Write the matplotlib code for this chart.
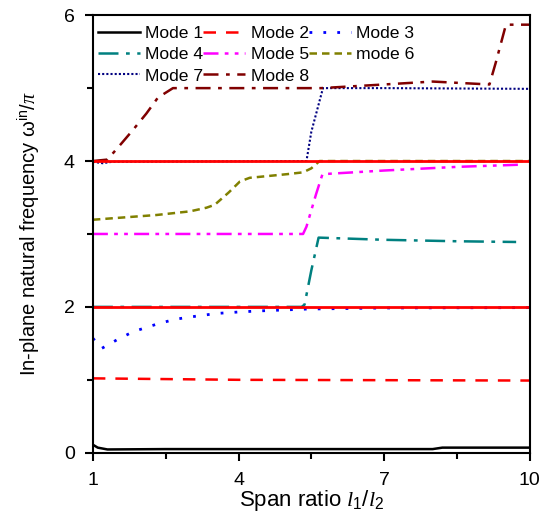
import matplotlib
matplotlib.use("Agg")
import matplotlib.pyplot as plt
from matplotlib.ticker import FixedLocator

plt.rcParams['font.family'] = ['Liberation Sans', 'DejaVu Sans']
plt.rcParams['mathtext.fontset'] = 'custom'
plt.rcParams['mathtext.rm'] = 'Liberation Sans'
plt.rcParams['mathtext.it'] = 'Liberation Serif:italic'
plt.rcParams['mathtext.sf'] = 'Liberation Sans'

# ---- data ----
m1_x = [1, 1.1, 1.3, 2.5, 8.0, 8.2, 10]
m1_y = [0.11, 0.07, 0.045, 0.05, 0.05, 0.07, 0.07]

m2_x = [1, 4, 10]
m2_y = [1.02, 1.0, 0.99]

m3_x = [1, 1.18, 1.5, 1.83, 2.3, 2.69, 3.1, 3.55, 4.0, 4.44, 5.4, 7, 10]
m3_y = [1.57, 1.43, 1.55, 1.66, 1.76, 1.83, 1.87, 1.91, 1.93, 1.945, 1.97, 1.985, 1.99]

m4_x = [1, 5.3, 5.36, 5.5, 5.65, 7, 8.5, 9.72]
m4_y = [2.0, 2.0, 2.03, 2.5, 2.95, 2.92, 2.9, 2.89]

m5_x = [1, 5.33, 5.4, 5.6, 5.73, 7, 8.5, 9.8]
m5_y = [3.0, 3.0, 3.1, 3.55, 3.82, 3.87, 3.92, 3.95]

m6_x = [1, 1.5, 2.31, 3.0, 3.34, 3.51, 3.8, 4.03, 4.23, 5.0, 5.33, 5.5, 5.67, 7, 10]
m6_y = [3.195, 3.22, 3.26, 3.31, 3.36, 3.40, 3.57, 3.72, 3.77, 3.82, 3.845, 3.9, 4.0, 4.0, 4.0]

m7_x = [1, 1.2, 1.4, 5.4, 5.5, 5.74, 7, 10]
m7_y = [3.99, 3.97, 3.99, 4.0, 4.4, 5.0, 5.0, 4.99]

m8_x = [1, 1.3, 1.6, 1.83, 2.1, 2.34, 2.65, 3, 5.7, 7, 8.0, 9.17, 9.3, 9.51, 10]
m8_y = [4.0, 4.02, 4.25, 4.43, 4.65, 4.87, 5.0, 5.0, 5.0, 5.05, 5.09, 5.05, 5.35, 5.87, 5.87]

ref_x = [1, 10]
ref2_y = [2, 2]
ref4_y = [4, 4]

labels = ['Mode 1', 'Mode 2', 'Mode 3', 'Mode 4', 'Mode 5', 'mode 6', 'Mode 7', 'Mode 8']
x_ticks = [1, 4, 7, 10]
x_minor = [2.5, 5.5, 8.5]
y_ticks = [0, 2, 4, 6]
y_minor = [1, 3, 5]

fig = plt.figure(figsize=(5.4, 5.24), dpi=100)
ax = fig.add_axes([0.172, 0.136, 0.809, 0.835])

lw = 1.8
h = []
h += ax.plot(m1_x, m1_y, color='black', lw=lw, ls='-', label=labels[0])
h += ax.plot(m2_x, m2_y, color='#ff0000', lw=lw, ls=(0, (5, 4)), label=labels[1])
h += ax.plot(m3_x, m3_y, color='#0000ff', lw=2.0, ls=(0, (1, 4)), label=labels[2])
h += ax.plot(m4_x, m4_y, color='#008080', lw=lw, ls=(0, (8, 3, 1.5, 3)), label=labels[3])
h += ax.plot(m5_x, m5_y, color='#ff00ff', lw=lw, ls=(0, (6, 2.5, 1.5, 2.5, 1.5, 2.5)), label=labels[4])
h += ax.plot(m6_x, m6_y, color='#808000', lw=lw, ls=(0, (3, 2)), label=labels[5])
h += ax.plot(m7_x, m7_y, color='#000080', lw=1.5, ls=(0, (1, 1)), label=labels[6])
h += ax.plot(m8_x, m8_y, color='#800000', lw=lw, ls=(0, (6, 3, 1.5, 3)), label=labels[7])

ax.plot(ref_x, ref2_y, color='#ff0000', lw=2.0, ls='-')
ax.plot(ref_x, ref4_y, color='#ff0000', lw=2.0, ls='-')

ax.set_xlim(1, 10)
ax.set_ylim(0, 6)
ax.xaxis.set_major_locator(FixedLocator(x_ticks))
ax.xaxis.set_minor_locator(FixedLocator(x_minor))
ax.yaxis.set_major_locator(FixedLocator(y_ticks))
ax.yaxis.set_minor_locator(FixedLocator(y_minor))

ax.tick_params(which='both', direction='out', top=False, right=False, width=1.5, labelsize=14)
ax.tick_params(which='major', length=6)
ax.tick_params(which='minor', length=4)
ax.tick_params(axis='x', which='major', pad=8)
ax.tick_params(axis='y', which='major', pad=7)
for s in ax.spines.values():
    s.set_linewidth(1.5)

ax.set_xlabel(r'Span ratio $\mathit{l}_{\mathrm{1}}/\mathit{l}_{\mathrm{2}}$', fontsize=16, labelpad=-1)
ax.set_ylabel(r'In-plane natural frequency $\mathrm{\omega}^{\mathrm{in}}/\mathit{\pi}$', fontsize=14.5, labelpad=16)

# row-major legend order (3 columns)
order = [0, 3, 6, 1, 4, 7, 2, 5]
ax.legend([h[i] for i in order], [labels[i] for i in order],
          loc='upper left', bbox_to_anchor=(5 / 437, 1 - 11 / 437),
          ncol=3, frameon=False, fontsize=12.6,
          handlelength=2.4, handletextpad=0.3, columnspacing=0.0,
          labelspacing=0.33, borderaxespad=0.0, borderpad=0.0)

fig.savefig('out.png', dpi=100)
